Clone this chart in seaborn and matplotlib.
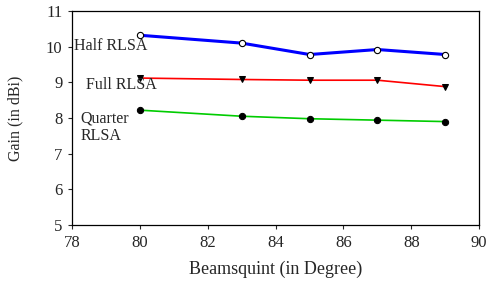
import pandas as pd
import matplotlib
matplotlib.use("Agg")
import matplotlib.pyplot as plt
import seaborn as sns

# dados
beamsquint = [80, 83, 85, 87, 89]
half_rlsa = [10.32, 10.10, 9.78, 9.92, 9.78]
full_rlsa = [9.12, 9.08, 9.06, 9.06, 8.88]
quarter_rlsa = [8.22, 8.05, 7.98, 7.94, 7.90]

sns.set_theme(style="ticks")
plt.rcParams['font.family'] = ['Liberation Serif', 'DejaVu Serif']

fig, ax = plt.subplots(figsize=(4.9, 2.82), dpi=100)

# cada série com seu estilo
sns.lineplot(x=beamsquint, y=half_rlsa, ax=ax, color='#0000ff', linewidth=2.2,
             marker='o', markersize=4.5, markerfacecolor='white',
             markeredgecolor='black', markeredgewidth=0.8)
sns.lineplot(x=beamsquint, y=full_rlsa, ax=ax, color='#ff0000', linewidth=1.2,
             marker='v', markersize=5, markerfacecolor='black',
             markeredgecolor='black')
sns.lineplot(x=beamsquint, y=quarter_rlsa, ax=ax, color='#00cc00', linewidth=1.2,
             marker='o', markersize=4.5, markerfacecolor='black',
             markeredgecolor='black')

# rótulos das séries dentro do gráfico
ax.text(78.05, 10.02, 'Half RLSA', fontsize=11.5, va='center', ha='left')
ax.text(78.4, 8.93, 'Full RLSA', fontsize=11.5, va='center', ha='left')
ax.text(78.25, 7.74, 'Quarter\nRLSA', fontsize=11.5, va='center', ha='left',
        linespacing=1.15)

ax.set_xlim(78, 90)
ax.set_ylim(5, 11)
ax.set_xticks(range(78, 91, 2))
ax.set_yticks(range(5, 12))
ax.tick_params(labelsize=12, length=3, width=0.8, direction='out', pad=4)
ax.set_xlabel('Beamsquint (in Degree)', fontsize=13, labelpad=7)
ax.set_ylabel('Gain (in dBi)', fontsize=11.5, labelpad=16)
for s in ax.spines.values():
    s.set_linewidth(0.9)
    s.set_color('black')

fig.subplots_adjust(left=0.147, right=0.978, top=0.961, bottom=0.202)
plt.savefig('out.png', dpi=100)
